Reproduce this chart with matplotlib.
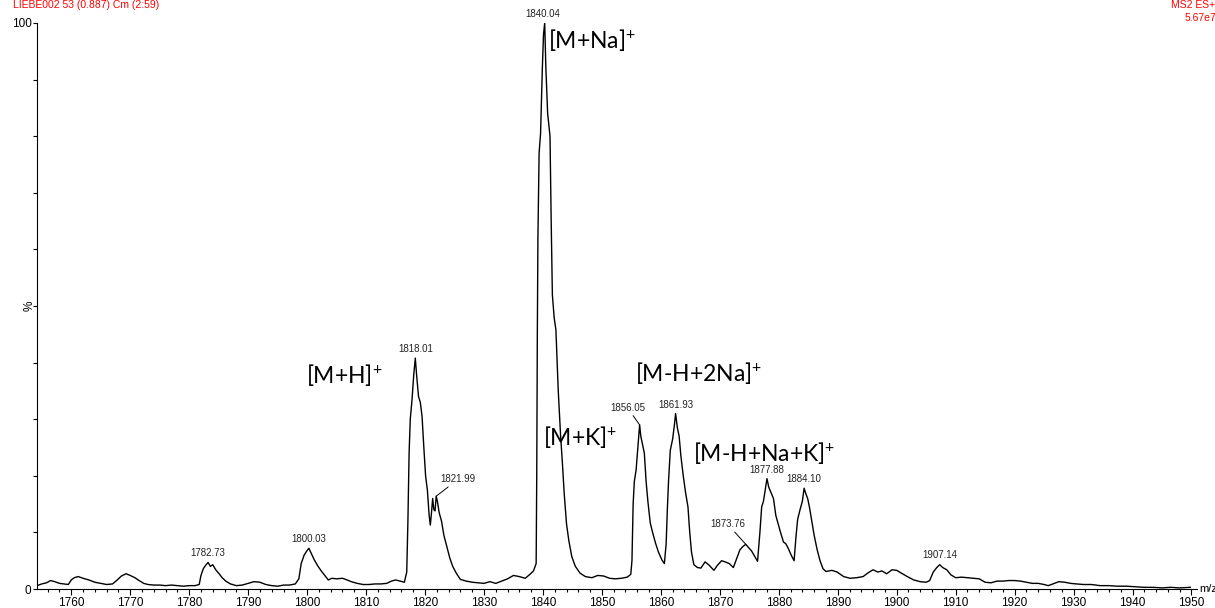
import numpy as np
import matplotlib
matplotlib.use("Agg")
import matplotlib.pyplot as plt
from matplotlib.ticker import MultipleLocator, FixedLocator

plt.rcParams['font.family'] = ['Liberation Sans', 'DejaVu Sans']
plt.rcParams['mathtext.fontset'] = 'custom'
plt.rcParams['mathtext.rm'] = 'Lato'
plt.rcParams['mathtext.default'] = 'regular'

# spectrum trace (m/z, % intensity)
mz = [1754.2, 1755.0, 1755.8, 1756.5, 1757.2, 1758.0, 1758.8, 1759.5, 1760.0, 1760.5,
      1761.2, 1762.0, 1763.0, 1764.0, 1765.0, 1766.0, 1767.0, 1767.8, 1768.5, 1769.3,
      1770.0, 1770.8, 1771.5, 1772.3, 1773.0, 1774.0, 1775.0, 1776.0, 1777.0, 1778.0,
      1779.0, 1780.0, 1781.0, 1781.7, 1782.0, 1782.4, 1782.8, 1783.2, 1783.6, 1784.0,
      1784.5, 1785.0, 1785.6, 1786.2, 1787.0, 1788.0, 1789.0, 1790.0, 1791.0, 1792.0,
      1793.0, 1794.0, 1795.0, 1796.0, 1797.0, 1798.0, 1798.6, 1799.0, 1799.5, 1800.0,
      1800.3, 1800.7, 1801.2, 1801.8, 1802.4, 1803.0, 1803.6, 1804.2, 1805.0, 1806.0,
      1806.8, 1807.5, 1808.5, 1809.5, 1810.5, 1811.5, 1812.5, 1813.5, 1814.3, 1815.0,
      1815.8, 1816.5, 1816.9, 1817.1, 1817.3, 1817.5, 1817.8, 1818.1, 1818.35, 1818.6,
      1818.9, 1819.2, 1819.5, 1819.8, 1820.1, 1820.4, 1820.7, 1820.9, 1821.1, 1821.3,
      1821.5, 1821.7, 1821.9, 1822.1, 1822.4, 1822.8, 1823.2, 1823.7, 1824.2, 1824.7,
      1825.3, 1826.0, 1827.0, 1828.0, 1829.0, 1830.0, 1831.0, 1832.0, 1833.0, 1834.0,
      1835.0, 1836.0, 1837.0, 1837.8, 1838.4, 1838.85, 1838.95, 1839.05, 1839.15, 1839.35,
      1839.6, 1839.9, 1840.1, 1840.3, 1840.5, 1840.8, 1841.2, 1841.4, 1841.6, 1841.9,
      1842.2, 1842.6, 1843.0, 1843.3, 1843.6, 1844.0, 1844.4, 1844.9, 1845.5, 1846.3,
      1847.2, 1848.3, 1849.3, 1850.3, 1851.3, 1852.3, 1853.3, 1854.3, 1854.9, 1855.1,
      1855.3, 1855.5, 1855.8, 1856.1, 1856.4, 1856.6, 1856.9, 1857.2, 1857.5, 1857.8,
      1858.2, 1858.6, 1859.1, 1859.6, 1860.2, 1860.6, 1860.9, 1861.1, 1861.3, 1861.6,
      1862.0, 1862.3, 1862.5, 1862.8, 1863.1, 1863.4, 1863.8, 1864.2, 1864.6, 1864.9,
      1865.2, 1865.6, 1866.2, 1866.8, 1867.5, 1868.2, 1869.0, 1869.6, 1870.3, 1870.9,
      1871.6, 1872.3, 1872.9, 1873.4, 1873.9, 1874.4, 1874.9, 1875.4, 1875.9, 1876.4,
      1876.8, 1877.1, 1877.4, 1877.7, 1878.0, 1878.3, 1878.7, 1879.1, 1879.5, 1879.9,
      1880.3, 1880.8, 1881.2, 1881.6, 1882.1, 1882.6, 1882.9, 1883.2, 1883.6, 1884.0,
      1884.3, 1884.6, 1884.9, 1885.2, 1885.6, 1886.0, 1886.5, 1887.0, 1887.5, 1888.0,
      1889.0, 1889.9, 1891.0, 1892.1, 1893.2, 1894.3, 1895.2, 1896.0, 1896.8, 1897.5,
      1898.3, 1899.2, 1900.0, 1900.8, 1901.8, 1902.9, 1904.0, 1905.0, 1905.6, 1906.2,
      1906.8, 1907.3, 1907.8, 1908.5, 1909.2, 1910.0, 1911.0, 1912.0, 1913.0, 1914.0,
      1915.0, 1916.0, 1917.0, 1918.0, 1919.0, 1920.0, 1921.0, 1922.0, 1923.0, 1924.0,
      1925.0, 1925.7, 1926.5, 1927.5, 1928.5, 1929.5, 1930.5, 1931.7, 1933.0, 1934.5,
      1936.0, 1937.4, 1939.0, 1940.5, 1942.0, 1943.5, 1945.0, 1946.5, 1948.0, 1949.8]
intensity = [0.6, 0.9, 1.1, 1.5, 1.3, 1.0, 0.9, 0.8, 1.6, 2.0,
             2.2, 1.9, 1.6, 1.2, 1.0, 0.8, 0.9, 1.6, 2.3, 2.7,
             2.4, 2.0, 1.5, 1.0, 0.8, 0.7, 0.7, 0.6, 0.7, 0.6,
             0.5, 0.6, 0.6, 0.8, 2.4, 3.6, 4.2, 4.7, 4.0, 4.3,
             3.4, 2.8, 2.0, 1.4, 0.9, 0.6, 0.7, 1.0, 1.3, 1.2,
             0.8, 0.6, 0.5, 0.7, 0.7, 0.9, 1.8, 4.5, 6.0, 6.8,
             7.2, 6.3, 5.2, 4.1, 3.2, 2.4, 1.6, 1.9, 1.8, 1.9,
             1.6, 1.3, 1.0, 0.8, 0.8, 0.9, 0.9, 1.0, 1.4, 1.6,
             1.4, 1.2, 3.0, 12.0, 24.0, 30.0, 33.5, 38.0, 40.8, 37.5,
             34.0, 33.0, 30.5, 25.0, 20.0, 17.5, 13.0, 11.3, 13.5, 16.0,
             14.0, 13.8, 16.4, 15.5, 13.5, 12.0, 9.5, 7.5, 5.5, 4.0,
             2.8, 1.7, 1.4, 1.2, 1.1, 1.0, 1.3, 1.0, 1.4, 1.8,
             2.4, 2.2, 1.9, 2.6, 3.2, 4.5, 20.0, 45.0, 62.0, 77.0,
             80.5, 92.0, 98.0, 100.0, 92.0, 84.0, 80.0, 65.0, 52.0, 48.0,
             45.8, 35.0, 27.0, 22.3, 17.0, 11.5, 8.5, 5.7, 4.0, 2.8,
             2.2, 2.0, 2.4, 2.3, 1.9, 1.8, 1.9, 2.1, 2.6, 5.0,
             15.0, 19.0, 21.0, 25.0, 29.0, 27.0, 25.5, 24.0, 19.0, 15.5,
             11.7, 10.0, 8.1, 6.5, 5.1, 4.5, 8.0, 14.0, 19.0, 24.5,
             26.5, 29.0, 31.0, 28.5, 27.0, 23.5, 20.0, 17.0, 14.5, 10.0,
             6.5, 4.3, 3.8, 3.7, 4.8, 4.2, 3.3, 4.2, 5.0, 4.8,
             4.5, 3.8, 5.5, 6.9, 7.5, 7.9, 7.3, 6.7, 5.8, 4.9,
             10.0, 14.5, 15.5, 17.5, 19.5, 18.0, 17.0, 16.0, 13.0, 11.5,
             10.0, 8.3, 8.0, 7.2, 6.0, 5.0, 9.0, 12.3, 14.0, 15.5,
             17.8, 16.8, 16.0, 14.5, 12.0, 9.5, 7.0, 5.0, 3.6, 3.1,
             3.3, 3.0, 2.2, 1.9, 2.0, 2.2, 2.9, 3.4, 3.0, 3.2,
             2.7, 3.4, 3.3, 2.8, 2.2, 1.6, 1.3, 1.2, 1.5, 3.0,
             3.8, 4.3, 3.8, 3.4, 2.5, 2.0, 2.1, 2.0, 1.9, 1.8,
             1.2, 1.1, 1.4, 1.4, 1.5, 1.5, 1.4, 1.2, 1.0, 1.0,
             0.8, 0.6, 0.9, 1.3, 1.2, 1.0, 0.9, 0.8, 0.8, 0.6,
             0.6, 0.5, 0.5, 0.4, 0.3, 0.3, 0.2, 0.3, 0.2, 0.3]

# labelled peaks: label text, offset of label in pixels (dx, dy), leader line?
peak_labels = ["1782.73", "1800.03", "1818.01", "1821.99", "1840.04",
               "1856.05", "1861.93", "1873.76", "1877.88", "1884.10", "1907.14"]
label_offsets = [(0, 4), (0, 4), (0, 4), (22, 12), (-2, 4),
                 (-12, 12), (0, 4), (-18, 15), (0, 4), (0, 4), (0, 5)]
leader = [False, False, False, True, False, True, False, True, False, False, False]

ion_labels = ["[M+H]$^{+}$", "[M+Na]$^{+}$", "[M+K]$^{+}$",
              "[M-H+2Na]$^{+}$", "[M-H+Na+K]$^{+}$"]
ion_pos = [(1799.8, 37.8), (1840.9, 97.0), (1840.0, 26.8),
           (1855.6, 38.1), (1865.4, 24.1)]

mz_arr = np.array(mz)
int_arr = np.array(intensity)

fig = plt.figure(figsize=(12.15, 6.08), dpi=100)
ax = fig.add_axes([0.0305, 0.0312, 0.955, 0.931])
ax.plot(mz_arr, int_arr, color='black', lw=1.0)

ax.set_xlim(1754.2, 1951)
ax.set_ylim(0, 100)
ax.spines['top'].set_visible(False)
ax.spines['right'].set_visible(False)
ax.xaxis.set_major_locator(MultipleLocator(10))
ax.xaxis.set_minor_locator(MultipleLocator(2))
ax.yaxis.set_major_locator(FixedLocator(np.arange(0, 101, 10)))
ax.set_yticklabels(['0'] + [''] * 9 + ['100'])
ax.tick_params(axis='x', which='major', length=4, width=0.8, labelsize=8.5, pad=2)
ax.tick_params(axis='x', which='minor', length=2.5, width=0.8)
ax.tick_params(axis='y', length=3, width=0.8, labelsize=8.5, pad=1)
ax.text(-0.006, 0.5, '%', transform=ax.transAxes, rotation=90,
        ha='center', va='center', fontsize=8.5)
ax.text(1.0015, 0.0, 'm/z', transform=ax.transAxes, ha='left',
        va='center', fontsize=8)

# peak value labels placed on the apex of the trace
for lab, (dx, dy), ld in zip(peak_labels, label_offsets, leader):
    target = float(lab)
    sel = np.abs(mz_arr - target) <= 0.8
    i = np.argmax(np.where(sel, int_arr, -1))
    px, py = mz_arr[i], int_arr[i]
    ax.annotate(lab, xy=(px, py), xytext=(dx, dy), textcoords='offset pixels',
                ha='center', va='bottom', fontsize=7, color='#222222',
                arrowprops=dict(arrowstyle='-', color='black', lw=0.7,
                                shrinkA=0, shrinkB=0) if ld else None)

for txt, (x, y) in zip(ion_labels, ion_pos):
    ax.text(x, y, txt, fontsize=16.5, family='Lato', ha='left', va='center')

fig.text(13 / 1215, 1.0, 'LIEBE002 53 (0.887) Cm (2:59)', color='red',
         fontsize=7.5, ha='left', va='top')
fig.text(1171 / 1215, 1.0, 'MS2 ES+', color='red', fontsize=7.5, ha='left', va='top')
fig.text(1185 / 1215, 0.978, '5.67e7', color='red', fontsize=7.5, ha='left', va='top')

fig.savefig('out.png', dpi=100)
